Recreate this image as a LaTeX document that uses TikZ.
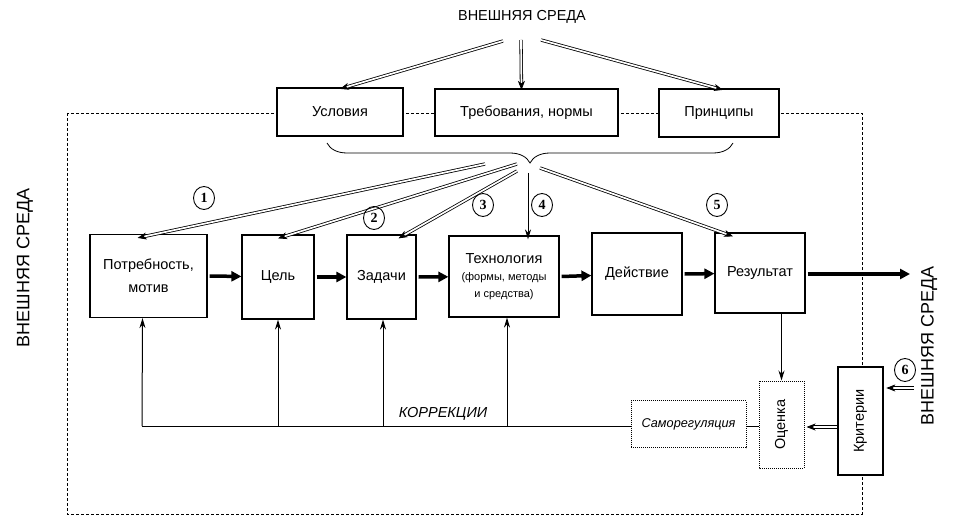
\documentclass[tikz,border=0pt]{standalone}
\usepackage{fontspec}
\setmainfont{Liberation Sans}
\newfontfamily\numfont{Liberation Serif}
\usetikzlibrary{arrows.meta,decorations.pathreplacing,decorations.markings,shapes.geometric}

\begin{document}
\begin{tikzpicture}[x=1pt,y=-1pt,
  txt/.style={font=\fontsize{14.5}{17}\selectfont},
  side/.style={font=\fontsize{18}{20}\selectfont,rotate=90},
  box/.style={draw,line width=1.2pt,fill=white,align=center,inner sep=0pt,txt},
  topbox/.style={box,line width=2.2pt},
  dotbox/.style={box,line width=1pt,densely dotted},
  num/.style={draw,ellipse,line width=0.9pt,inner sep=0pt,minimum width=21pt,minimum height=23pt,
    font=\numfont\bfseries\fontsize{14}{15}\selectfont},
  dbl/.style={double,double distance=1.7pt,line width=0.8pt,shorten >=5pt,
    postaction={decorate,decoration={markings,
      mark=at position 1 with {\arrow[line width=0.8pt]{Stealth[length=9pt,width=7pt,inset=2.5pt]}}}}},
  one/.style={line width=1pt,-{Stealth[length=10pt,width=6pt]}},
  fat/.style={line width=3.5pt,-{Triangle[length=10pt,width=10pt]}}]
\useasboundingbox (0,0) rectangle (960,529);

% frame of the system
\draw[dashed,line width=0.6pt,dash pattern=on 3pt off 2pt] (67,113) rectangle (862,514);

% outer environment
\node[txt] (envtop) at (522,17) {ВНЕШНЯЯ СРЕДА};
\node[side] (envleft) at (25,268) {ВНЕШНЯЯ СРЕДА};
\node[side] (envright) at (929,346) {ВНЕШНЯЯ СРЕДА};

% top boxes
\node[topbox,minimum width=126,minimum height=48] (cond) at (340,112) {Условия};
\node[topbox,minimum width=183,minimum height=47] (req) at (526.5,112.5) {Требования, нормы};
\node[topbox,minimum width=120,minimum height=48] (prin) at (719,113) {Принципы};

\coordinate (e1) at (503,41);
\coordinate (e2) at (521,40);
\coordinate (e3) at (541,40);
\draw[dbl] (e1) -- ([yshift=-2]cond.north);
\draw[dbl] (e2) -- ([xshift=-5,yshift=-2]req.north);
\draw[dbl] (e3) -- ([xshift=4,yshift=-2]prin.north);

\draw[decorate,decoration={brace,mirror,amplitude=20pt},line width=0.8pt] (327,143) -- (733,143);

% main chain
\node[box,minimum width=117,minimum height=83] (need) at (148.5,276) {Потребность,\\[6pt]мотив};
\node[box,minimum width=72,minimum height=84] (goal) at (278,277) {Цель};
\node[box,minimum width=69,minimum height=84] (task) at (381.5,277) {Задачи};
\node[box,minimum width=110,minimum height=81] (tech) at (504,276.5)
  {Технология\\{\fontsize{11}{14}\selectfont(формы, методы}\\{\fontsize{11}{14}\selectfont и средства)}};
\node[box,minimum width=90,minimum height=82] (act) at (637,274) {Действие};
\node[box,minimum width=90,minimum height=80] (res) at (760,273) {Результат};

\draw[fat] ([xshift=2]need.east) -- (goal);
\draw[fat] ([xshift=2]goal.east) -- (task);
\draw[fat] ([xshift=2]task.east) -- (tech);
\draw[fat] ([xshift=2]tech.east) -- (act);
\draw[fat] ([xshift=2]act.east) -- (res);
\coordinate (out) at (910,274);
\draw[fat] ([xshift=2]res.east |- out) -- (out);

% fan from the brace
\coordinate (f1) at (485,164);
\coordinate (f2) at (517,164);
\coordinate (f3) at (517,171);
\coordinate (f4) at (528,173);
\coordinate (f5) at (540,168);
\draw[dbl] (f1) -- ([xshift=-11,yshift=-4]need.north);
\draw[dbl] (f2) -- ([yshift=-4]goal.north);
\draw[dbl] (f3) -- ([xshift=17,yshift=-4]task.north);
\draw[one] (f4) -- ([xshift=24,yshift=-4]tech.north);
\draw[dbl] (f5) -- ([xshift=-27,yshift=-4]res.north);
\node[num] (n1) at (204,198) {1};
\node[num] (n2) at (374,218) {2};
\node[num] (n3) at (483,205) {3};
\node[num] (n4) at (542,205) {4};
\node[num] (n5) at (717,205) {5};

% evaluation and correction
\node[dotbox,minimum width=115,minimum height=47,font=\itshape\fontsize{12.7}{15}\selectfont] (self) at (688.5,424) {Саморегуляция};
\node[dotbox,minimum width=87,minimum height=45,rotate=90] (eval) at (781.5,424.5) {Оценка};
\node[box,line width=2.6pt,minimum width=108,minimum height=45,rotate=90] (crit) at (860.5,421) {Критерии};

\draw[one] (eval.east |- res.south) -- (eval.east);
\coordinate (k) at (0,427);
\draw[dbl] (crit.north |- k) -- ([xshift=2]eval.south |- k);
\coordinate (c6) at (914,388);
\draw[dbl] (c6) -- ([xshift=2]crit.south |- c6);
\node[num] (n6) at (905,370) {6};

\coordinate (base) at (142,426);
\draw[line width=0.8pt] (eval.north |- base) -- (self.east |- base);
\draw[line width=0.8pt] (self.west |- base) -- (base);
\draw[one] (base) -- ([xshift=-6]need.south);
\draw[one] (goal.south |- base) -- (goal.south);
\draw[one] ([xshift=1.5]task.south |- base) -- ([xshift=1.5]task.south);
\draw[one] ([xshift=3]tech.south |- base) -- ([xshift=3]tech.south);
\node[txt,font=\itshape\fontsize{14.5}{17}\selectfont] (corr) at (443,414) {КОРРЕКЦИИ};
\end{tikzpicture}
\end{document}
